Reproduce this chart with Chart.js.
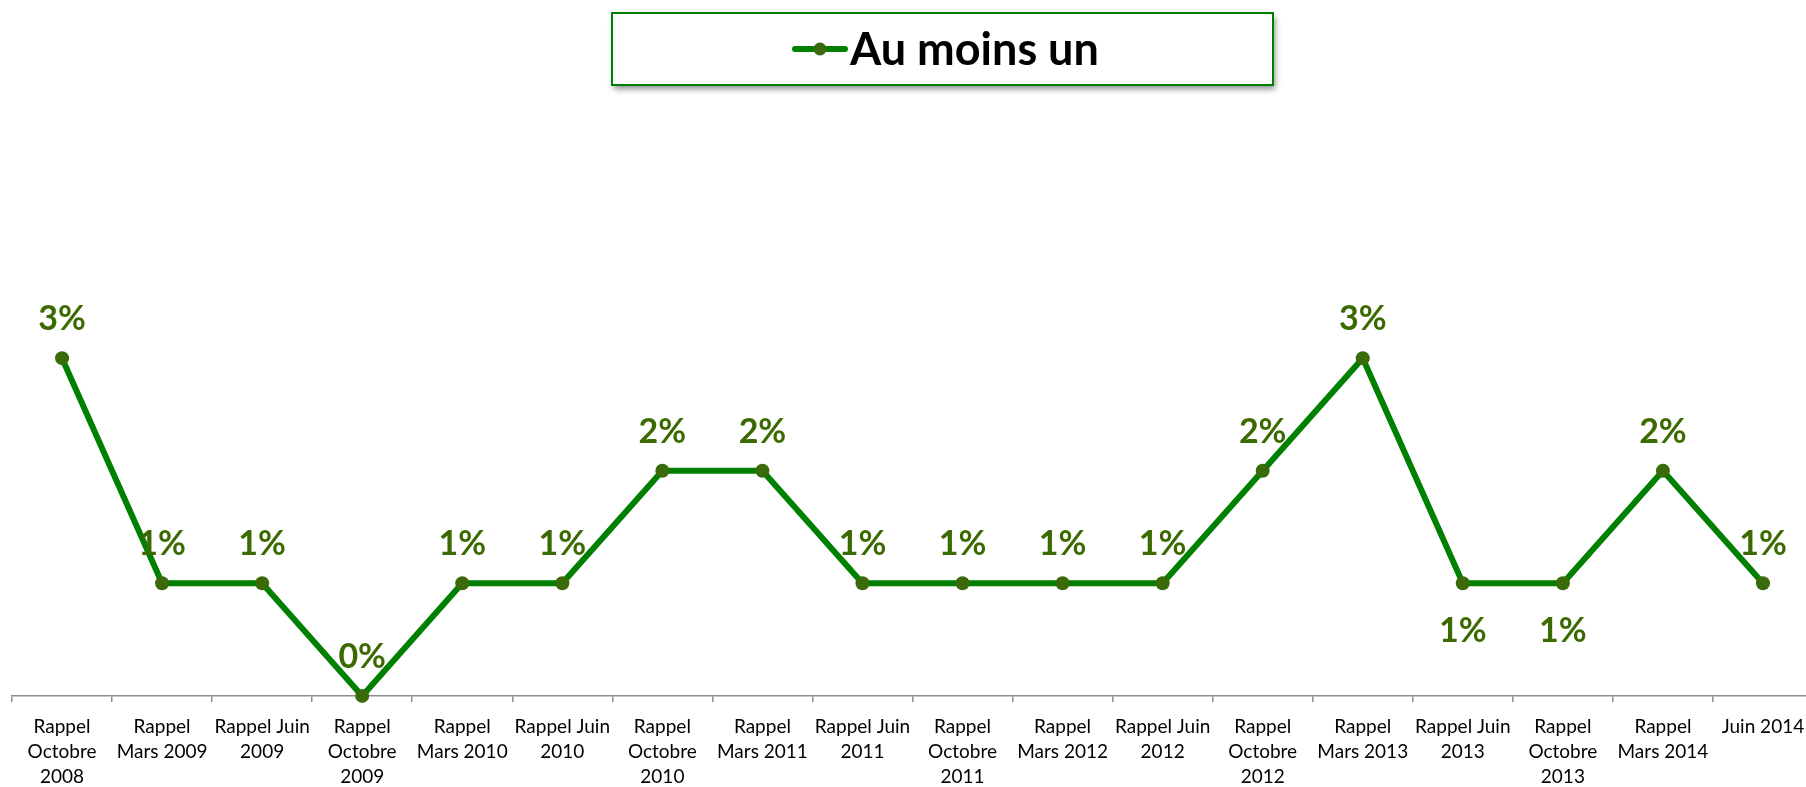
<!DOCTYPE html>
<html>
<head>
<meta charset="utf-8">
<script src="https://cdn.jsdelivr.net/npm/chart.js@4/dist/chart.umd.min.js"></script>
<style>
html,body{margin:0;padding:0;background:#fff;overflow:hidden;}
#wrap{position:relative;width:1820px;height:787px;}
</style>
</head>
<body>
<div id="wrap"><canvas id="c"></canvas></div>
<script>
const categories = [
  ["Rappel","Octobre","2008"],
  ["Rappel","Mars 2009"],
  ["Rappel Juin","2009"],
  ["Rappel","Octobre","2009"],
  ["Rappel","Mars 2010"],
  ["Rappel Juin","2010"],
  ["Rappel","Octobre","2010"],
  ["Rappel","Mars 2011"],
  ["Rappel Juin","2011"],
  ["Rappel","Octobre","2011"],
  ["Rappel","Mars 2012"],
  ["Rappel Juin","2012"],
  ["Rappel","Octobre","2012"],
  ["Rappel","Mars 2013"],
  ["Rappel Juin","2013"],
  ["Rappel","Octobre","2013"],
  ["Rappel","Mars 2014"],
  ["Juin 2014"]
];
const seriesName = "Au moins un";
const values = [3,1,1,0,1,1,2,2,1,1,1,1,2,3,1,1,2,1];
const labelBelow = [false,false,false,false,false,false,false,false,false,false,false,false,false,false,true,true,false,false];

const LINE = '#008000';
const POINT = '#3a6a0a';
const LABEL = '#3b6b00';

const valueLabels = {
  id: 'valueLabels',
  afterDatasetsDraw(chart) {
    const ctx = chart.ctx;
    const meta = chart.getDatasetMeta(0);
    ctx.save();
    ctx.font = 'bold 34px Lato';
    ctx.fillStyle = LABEL;
    ctx.textAlign = 'center';
    ctx.textBaseline = 'middle';
    meta.data.forEach((pt, i) => {
      const dy = labelBelow[i] ? 48 : -39;
      ctx.fillText(values[i] + '%', pt.x, pt.y + dy);
    });
    ctx.restore();
  }
};

const boxLegend = {
  id: 'boxLegend',
  afterDraw(chart) {
    const ctx = chart.ctx;
    const x = 612, y = 13, w = 661, h = 72;
    ctx.save();
    ctx.shadowColor = 'rgba(0,0,0,0.45)';
    ctx.shadowBlur = 6;
    ctx.shadowOffsetX = 2;
    ctx.shadowOffsetY = 4;
    ctx.fillStyle = '#fff';
    ctx.fillRect(x, y, w, h);
    ctx.restore();
    ctx.save();
    ctx.strokeStyle = LINE;
    ctx.lineWidth = 2;
    ctx.strokeRect(x, y, w, h);
    const cy = y + h / 2;
    ctx.strokeStyle = LINE;
    ctx.lineWidth = 6;
    ctx.lineCap = 'round';
    ctx.beginPath();
    ctx.moveTo(795, cy);
    ctx.lineTo(845, cy);
    ctx.stroke();
    ctx.fillStyle = POINT;
    ctx.beginPath();
    ctx.arc(820, cy, 6.5, 0, Math.PI * 2);
    ctx.fill();
    ctx.fillStyle = '#000';
    ctx.font = 'bold 45px Lato';
    ctx.textAlign = 'left';
    ctx.textBaseline = 'middle';
    ctx.fillText(seriesName, 850, cy + 1);
    ctx.restore();
  }
};

new Chart(document.getElementById('c'), {
  type: 'line',
  data: {
    labels: categories,
    datasets: [{
      label: seriesName,
      data: values,
      borderColor: LINE,
      borderWidth: 6,
      tension: 0,
      pointRadius: 7,
      pointHoverRadius: 7,
      pointBackgroundColor: POINT,
      pointBorderWidth: 0,
      clip: false
    }]
  },
  options: {
    responsive: true,
    maintainAspectRatio: false,
    animation: false,
    layout: { padding: { top: 133, left: 12, right: 0, bottom: -15 } },
    plugins: {
      legend: { display: false },
      tooltip: { enabled: false }
    },
    scales: {
      x: {
        offset: true,
        grid: {
          offset: true,
          drawOnChartArea: false,
          drawTicks: true,
          tickLength: 6,
          color: '#8c8c8c',
          lineWidth: 1.5
        },
        border: { display: true, color: '#8c8c8c', width: 1.5 },
        ticks: {
          autoSkip: false,
          maxRotation: 0,
          minRotation: 0,
          padding: 13,
          color: '#000',
          font: { family: 'Lato', size: 19, lineHeight: 1.3 }
        }
      },
      y: {
        display: false,
        min: 0,
        max: 5
      }
    }
  },
  plugins: [valueLabels, boxLegend]
});
</script>
</body>
</html>
